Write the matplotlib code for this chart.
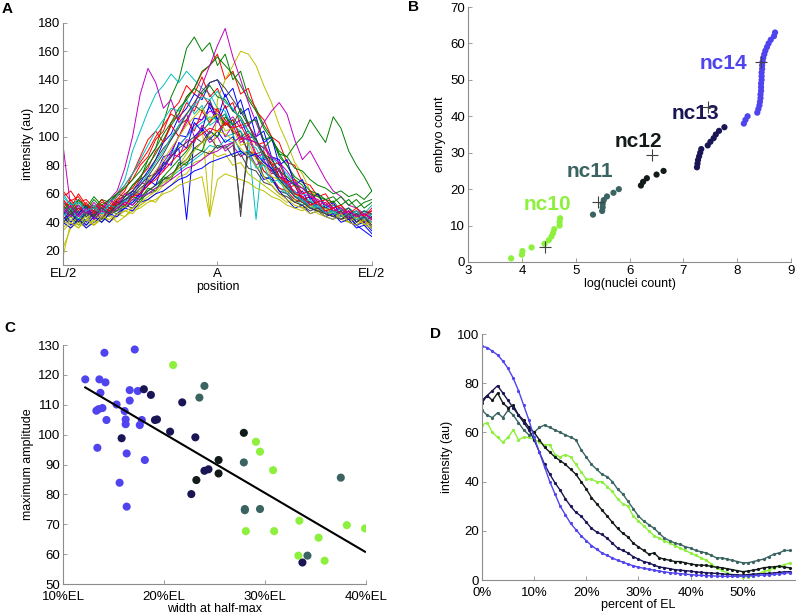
import numpy as np
import matplotlib
matplotlib.use("Agg")
import matplotlib.pyplot as plt

plt.rcParams['font.family'] = ['Liberation Sans', 'DejaVu Sans']

# ---------------- Panel A data: intensity profiles (position 0..1, A at 0.5)
a_pos = [i / 40 for i in range(41)]
a_profiles = [
    [42,46,40,47,44,50,47,55,54,62,60,72,74,86,88,101,100,113,112,121,110,122,108,112,100,99,84,86,72,70,60,62,52,55,46,50,44,48,40,46,43],
    [45,50,42,48,46,52,50,56,58,66,70,84,92,110,128,140,162,170,160,166,150,158,140,146,128,120,108,100,86,80,70,66,58,60,52,55,48,50,44,48,46],
    [62,55,58,50,52,46,50,54,60,64,72,78,90,96,110,116,128,134,145,150,158,140,146,130,134,118,112,100,96,82,80,68,66,58,60,52,50,46,48,44,50],
    [50,46,52,44,48,50,54,60,70,90,104,118,130,136,144,138,146,140,134,130,120,118,104,100,90,86,76,70,64,60,56,52,55,48,50,44,47,42,45,40,44],
    [94,50,46,52,44,50,56,62,78,100,130,148,138,120,126,110,116,100,104,96,100,90,94,86,90,80,84,74,76,66,68,60,62,54,56,50,52,46,48,44,46],
    [16,40,36,42,38,44,40,46,44,50,52,56,60,66,72,80,88,96,108,46,126,140,150,160,158,150,136,124,108,96,82,74,62,58,52,50,46,44,40,42,38],
    [44,40,46,38,44,42,48,46,52,50,56,60,62,70,72,80,84,92,96,104,100,110,104,44,98,96,86,80,72,66,60,58,52,50,46,48,42,44,38,42,36],
    [50,44,48,40,46,48,52,50,58,62,68,76,84,96,102,114,120,130,126,138,140,128,134,116,120,100,104,86,84,70,66,56,58,50,46,48,42,44,38,40,34],
    [40,44,38,42,46,40,46,48,52,56,54,62,66,72,78,84,90,98,104,110,116,108,112,100,104,96,92,98,90,86,94,100,112,104,96,114,106,90,80,72,62],
    [46,52,44,50,48,54,52,60,66,74,82,90,100,108,116,112,124,118,130,122,118,112,104,100,90,88,76,72,64,62,56,54,50,52,46,48,44,46,42,44,40],
    [54,50,56,48,50,46,48,50,52,54,58,60,64,68,72,76,80,84,88,94,92,98,96,100,98,42,94,86,80,74,66,60,58,54,50,52,48,50,46,48,44],
    [56,48,52,46,50,44,48,52,50,56,60,66,72,80,86,94,100,108,112,118,116,110,114,106,108,100,110,118,124,116,98,84,90,80,70,62,58,52,50,46,48],
    [38,44,40,36,42,46,40,44,48,46,52,56,54,62,66,72,74,82,84,90,86,88,80,82,74,70,66,62,58,54,56,50,52,48,46,50,44,42,46,38,42],
    [40,46,42,48,44,50,46,52,58,62,70,74,84,92,98,108,112,122,118,126,112,116,102,104,88,86,72,70,62,60,54,56,50,48,52,46,48,42,46,40,44],
    [44,38,42,36,40,44,40,46,50,54,60,66,72,78,86,92,42,100,106,98,104,96,100,90,86,80,70,72,62,56,50,52,46,48,44,42,46,40,38,34,30],
    [48,54,46,52,50,56,54,60,58,66,72,80,88,98,108,116,128,134,146,150,156,150,144,136,126,118,106,98,88,80,72,68,62,60,56,58,52,56,50,54,56],
    [58,62,54,56,50,52,48,56,62,74,86,98,104,96,108,100,112,104,118,110,120,108,112,98,102,88,90,76,78,64,66,56,58,52,54,48,50,44,48,42,46],
    [60,52,56,50,48,52,46,50,54,58,62,68,74,80,88,94,100,106,110,114,112,116,108,104,96,92,82,78,68,64,58,56,52,50,48,46,50,44,48,46,52],
    [42,48,44,50,46,52,48,54,52,58,62,68,74,82,90,100,110,122,136,150,164,176,156,140,124,110,96,84,76,66,62,56,54,50,48,44,46,42,44,40,42],
    [22,36,40,44,38,42,46,40,44,48,50,54,56,60,62,66,68,70,72,44,70,74,72,70,68,64,62,58,56,52,50,48,52,46,44,48,42,40,44,38,36],
    [48,44,50,46,52,48,44,50,54,52,58,62,66,70,74,78,82,86,90,88,94,92,96,50,90,86,80,76,70,66,60,58,54,52,50,48,46,50,44,48,46],
    [48,40,46,52,42,48,44,54,50,60,58,70,66,82,80,96,92,110,104,124,112,130,118,126,108,114,96,100,80,84,66,70,56,60,50,54,44,48,40,44,36],
    [52,46,54,48,56,50,46,54,50,58,56,64,62,72,70,82,80,92,90,104,100,114,108,120,110,112,98,100,88,86,78,76,70,66,64,60,62,58,60,56,62],
    [56,50,60,52,48,56,50,58,64,70,80,86,98,104,118,124,136,130,142,128,134,120,124,108,110,94,96,80,82,68,70,60,62,54,56,50,52,46,50,44,48],
    [44,50,42,48,52,46,54,58,66,74,84,94,104,112,120,118,126,116,122,108,112,100,102,88,90,78,80,68,70,60,62,54,56,50,52,46,50,44,48,42,46],
    [50,44,52,46,54,48,56,52,60,58,68,66,76,76,88,86,98,96,108,102,112,100,108,96,100,86,88,76,78,66,68,58,60,52,54,48,50,44,46,40,44],
    [36,42,38,46,40,48,44,52,50,58,62,70,76,84,92,100,108,114,120,112,116,104,106,94,96,84,82,72,70,62,60,54,52,48,50,44,46,40,44,38,40],
    [52,46,50,44,48,42,50,48,56,58,64,68,74,80,86,92,96,100,96,100,92,94,86,88,78,76,68,66,60,58,54,52,48,50,46,44,48,42,46,40,44],
    [40,36,42,38,44,40,46,44,50,48,54,56,60,62,66,70,72,76,78,82,84,86,88,90,86,88,82,78,70,66,58,56,50,48,44,46,40,42,36,38,32],
    [54,48,56,50,58,52,56,60,64,70,76,84,92,102,110,120,126,134,130,136,128,126,118,114,104,98,88,84,76,72,66,64,60,58,56,54,58,52,56,50,54],
    [50,56,48,54,46,52,48,54,52,58,60,66,70,76,82,88,92,98,102,106,104,110,106,108,98,96,86,82,72,68,60,58,52,54,48,50,46,48,44,46,42],
    [58,52,54,48,50,46,52,50,56,60,66,74,82,90,100,108,116,122,128,126,132,124,120,112,104,96,86,80,70,66,58,56,50,52,46,48,44,46,42,44,40],
    [46,52,44,50,42,48,46,50,54,52,58,60,64,66,70,74,78,80,84,88,90,94,96,100,98,96,92,86,82,76,68,64,58,56,52,50,46,48,44,46,42],
    [34,40,36,42,38,44,42,46,48,50,54,58,62,68,72,78,84,90,96,100,104,102,98,92,86,80,72,66,60,56,52,50,46,48,44,42,46,40,38,42,36],
    [42,48,40,46,44,50,46,52,56,60,66,72,80,88,98,106,116,124,132,138,140,134,126,118,108,98,88,80,70,64,58,54,50,48,46,44,42,46,40,44,38],
]
a_colors = ['#0000ff', '#008000', '#ff0000', '#00bfbf', '#bf00bf', '#bfbf00', '#404040']
a_xticklabels = ['EL/2', 'A', 'EL/2']

# ---------------- Panel B data
b_x_nc10 = [3.80, 4.00, 4.01, 4.18, 4.42, 4.50, 4.55, 4.58, 4.60, 4.70, 4.70, 4.71]
b_y_nc10 = [1, 2, 3, 4, 5, 6, 7, 8, 9, 10, 11, 12]
b_x_nc11 = [5.32, 5.49, 5.50, 5.50, 5.52, 5.58, 5.70, 5.80]
b_y_nc11 = [13, 14, 15, 16, 17, 18, 19, 20]
b_x_nc12 = [6.21, 6.25, 6.32, 6.50, 6.63]
b_y_nc12 = [21, 22, 23, 24, 25]
b_x_nc13 = [7.25, 7.26, 7.27, 7.29, 7.31, 7.33, 7.45, 7.50, 7.56, 7.60, 7.66, 7.76]
b_y_nc13 = [26, 27, 28, 29, 30, 31, 32, 33, 34, 35, 36, 37]
b_x_nc14 = [8.12, 8.15, 8.19, 8.37, 8.39, 8.41, 8.42, 8.43, 8.43, 8.44, 8.44, 8.44, 8.45,
            8.45, 8.45, 8.46, 8.46, 8.47, 8.48, 8.50, 8.52, 8.55, 8.58, 8.62, 8.68, 8.70]
b_y_nc14 = list(range(38, 64))
b_cross_x = [4.42, 5.42, 6.42, 7.45, 8.43]
b_cross_y = [4.0, 16.6, 29.3, 42.5, 54.8]
b_labels = ['nc10', 'nc11', 'nc12', 'nc13', 'nc14']
b_label_x = [4.03, 4.83, 5.73, 6.78, 7.30]
b_label_y = [15.8, 24.8, 33.0, 40.8, 54.6]

stage_colors = ['#8cf03c', '#3a6461', '#121a1a', '#1a1656', '#4f44ee']

# ---------------- Panel C data
c_x_nc14 = [12.2, 14.1, 17.1, 13.6, 14.2, 13.7, 16.6, 17.4, 16.6, 15.3, 13.3, 13.5, 13.9,
            16.1, 14.3, 16.2, 16.2, 17.8, 17.6, 13.4, 16.3, 18.1, 15.6, 16.3]
c_y_nc14 = [118.5, 127.4, 128.5, 118.5, 117.5, 114.0, 114.9, 114.6, 111.4, 110.1, 108.0, 108.5, 108.9,
            107.9, 104.9, 105.1, 103.5, 104.9, 103.2, 95.6, 93.7, 91.5, 83.9, 75.9]
c_x_nc13 = [18.0, 18.7, 21.8, 19.1, 19.3, 15.8, 20.6, 23.1, 24.0, 24.4, 22.7, 33.7]
c_y_nc13 = [115.2, 113.3, 110.8, 104.9, 105.1, 98.8, 101.0, 99.1, 87.9, 88.4, 80.1, 57.2]
c_x_nc12 = [27.9, 25.4, 25.4, 23.2]
c_y_nc12 = [100.6, 91.5, 87.0, 84.8]
c_x_nc11 = [24.0, 23.5, 27.9, 28.0, 28.0, 29.5, 37.5, 34.2]
c_y_nc11 = [116.3, 112.4, 90.7, 75.1, 74.7, 75.1, 85.6, 59.5]
c_x_nc10 = [20.9, 29.1, 29.5, 30.8, 33.4, 28.1, 30.9, 35.3, 38.1, 39.9, 33.3, 35.9]
c_y_nc10 = [123.3, 97.6, 94.3, 88.1, 71.2, 67.7, 67.7, 65.5, 69.7, 68.6, 59.5, 57.8]
c_fit_x = [12.2, 39.9]
c_fit_y = [115.8, 60.8]
c_xticks = [10, 20, 30, 40]
c_xticklabels = ['10%EL', '20%EL', '30%EL', '40%EL']

# ---------------- Panel D data (percent of EL 0..59)
d_x = list(range(60))
d_nc14 = [95,94.5,93,91.5,89,86,82,77,71,65,58,52,46,40,35,30,26.5,23,20.5,18,16,14,12.5,11,10,9,8,7.3,6.5,5.8,
          5.2,4.8,4.4,4,3.6,3.3,3,2.8,2.6,2.4,2.2,2,1.9,1.8,1.7,1.6,1.5,1.5,1.5,1.5,1.6,1.7,1.8,1.9,2,2.1,2.3,2.5,2.7,3.0]
d_nc13 = [72,75,77,79,76,73,70,67,64,61,57,52,47,43,39.5,36.5,33,30,27.5,26,23.5,21,19.5,18.5,17,15,13,12,11,9.5,
          8.5,7.5,7,6,5.3,5,4.6,4.2,4,3.8,3.6,3.3,3.1,3,2.8,2.7,2.5,2.3,2.2,2.1,2,2.2,2.4,2.5,2.6,2.7,2.9,3.1,3.3,3.4]
d_nc12 = [73,75,73,76,72,70,71,67,65,62,60,57,54,52,50,48.5,47,45,43,40,37,33.5,31,28.5,26,23.5,21,19,17.5,15,
          13.5,12,10.5,11,9,8.5,8,7.5,7.5,7,6.5,6.2,6,6,5.5,5.2,5,4.6,4.2,3.8,3.4,3.6,4,4.4,5,5.2,5.4,5.6,5.2,5]
d_nc11 = [69,67,66,68,66,69,67,64,61,59,60,62,63,62,61,60,59,58,57,53,50,47,45,43,42,40,37,35,32,29,
          26,24,22.5,21,19,17,16,15,14.5,13.5,13,12,11.5,11,10,9,9,8.5,8,7.5,7,7,7.5,8,8.5,9.5,10.5,11,12,12]
d_nc10 = [63,64,60,58,56,58,61,57,58,58,57,56,55,55,51,50,51,50,47,44,41,41,40,40,38,36,33,31,30,26,
          24,22,20,18,17,16,15,14,13,12,11,10,9,8,6.5,5,4,3,2,1.5,1.4,1.4,1.6,2.5,3.5,4,5,5.5,6.3,6.8]
d_xticks = [0, 10, 20, 30, 40, 50]
d_xticklabels = ['0%', '10%', '20%', '30%', '40%', '50%']

# ---------------- figure
fig = plt.figure(figsize=(7.98, 6.15), dpi=100)
TFS = 9.5
LFS = 9
SPINE = '#8c8c8c'


def style(ax, xpad=2):
    for s in ['top', 'right']:
        ax.spines[s].set_visible(False)
    for s in ['left', 'bottom']:
        ax.spines[s].set_color(SPINE)
        ax.spines[s].set_linewidth(0.8)
    ax.tick_params(direction='in', length=3, width=0.6, color=SPINE, labelsize=TFS, pad=2)
    ax.tick_params(axis='x', pad=xpad)


# Panel A
axA = fig.add_axes([0.079, 0.569, 0.387, 0.394])
for k, prof in enumerate(a_profiles):
    axA.plot(a_pos, prof, color=a_colors[k % 7], lw=0.7)
axA.set_xlim(0, 1)
axA.set_ylim(10, 180)
axA.set_yticks(range(20, 181, 20))
axA.set_xticks([0, 0.5, 1])
axA.set_xticklabels(a_xticklabels)
axA.set_xlabel('position', fontsize=LFS, labelpad=1)
axA.set_ylabel('intensity (au)', fontsize=LFS, labelpad=3)
style(axA)

# Panel B
axB = fig.add_axes([0.5865, 0.574, 0.405, 0.4146])
bx = [b_x_nc10, b_x_nc11, b_x_nc12, b_x_nc13, b_x_nc14]
by = [b_y_nc10, b_y_nc11, b_y_nc12, b_y_nc13, b_y_nc14]
for k in range(5):
    axB.scatter(bx[k], by[k], s=20, color=stage_colors[k], edgecolors='none', zorder=2)
    axB.text(b_label_x[k], b_label_y[k], b_labels[k], color=stage_colors[k], fontsize=15,
             fontweight='bold', ha='left', va='center', zorder=3)
axB.plot(b_cross_x, b_cross_y, linestyle='none', marker='+', ms=9, mew=0.8, color='#404040', zorder=4)
axB.set_xlim(3, 9)
axB.set_ylim(0, 70)
axB.set_xticks(range(3, 10))
axB.set_yticks(range(0, 71, 10))
axB.set_xlabel('log(nuclei count)', fontsize=LFS, labelpad=1)
axB.set_ylabel('embryo count', fontsize=LFS, labelpad=3)
style(axB)

# Panel C
axC = fig.add_axes([0.079, 0.0504, 0.3797, 0.3886])
cx = [c_x_nc14, c_x_nc13, c_x_nc12, c_x_nc11, c_x_nc10]
cy = [c_y_nc14, c_y_nc13, c_y_nc12, c_y_nc11, c_y_nc10]
cc = [stage_colors[4], stage_colors[3], stage_colors[2], stage_colors[1], stage_colors[0]]
for k in range(5):
    axC.scatter(cx[k], cy[k], s=34, color=cc[k], edgecolors='none', zorder=2)
axC.plot(c_fit_x, c_fit_y, color='black', lw=1.5, zorder=3)
axC.set_xlim(10, 40)
axC.set_ylim(50, 130)
axC.set_xticks(c_xticks)
axC.set_xticklabels(c_xticklabels)
axC.set_yticks(range(50, 131, 10))
axC.set_xlabel('width at half-max', fontsize=LFS, labelpad=0)
axC.set_ylabel('maximum amplitude', fontsize=LFS, labelpad=3)
style(axC, xpad=5)

# Panel D
axD = fig.add_axes([0.604, 0.0569, 0.392, 0.400])
for vals, col in [(d_nc10, stage_colors[0]), (d_nc11, stage_colors[1]), (d_nc12, stage_colors[2]),
                  (d_nc13, stage_colors[3]), (d_nc14, stage_colors[4])]:
    axD.plot(d_x, vals, color=col, lw=1.0, marker='o', ms=2.3, mew=0)
axD.set_xlim(0, 60)
axD.set_ylim(0, 100)
axD.set_xticks(d_xticks)
axD.set_xticklabels(d_xticklabels)
axD.set_yticks(range(0, 101, 20))
axD.set_xlabel('percent of EL', fontsize=LFS, labelpad=0)
axD.set_ylabel('intensity (au)', fontsize=LFS, labelpad=3)
style(axD, xpad=5)

for lab, x, y in [('A', 0.009, 0.986), ('B', 0.518, 0.988), ('C', 0.0125, 0.467), ('D', 0.546, 0.457)]:
    fig.text(x, y, lab, fontsize=11, fontweight='bold', ha='center', va='center')

fig.savefig('out.png', dpi=100)
